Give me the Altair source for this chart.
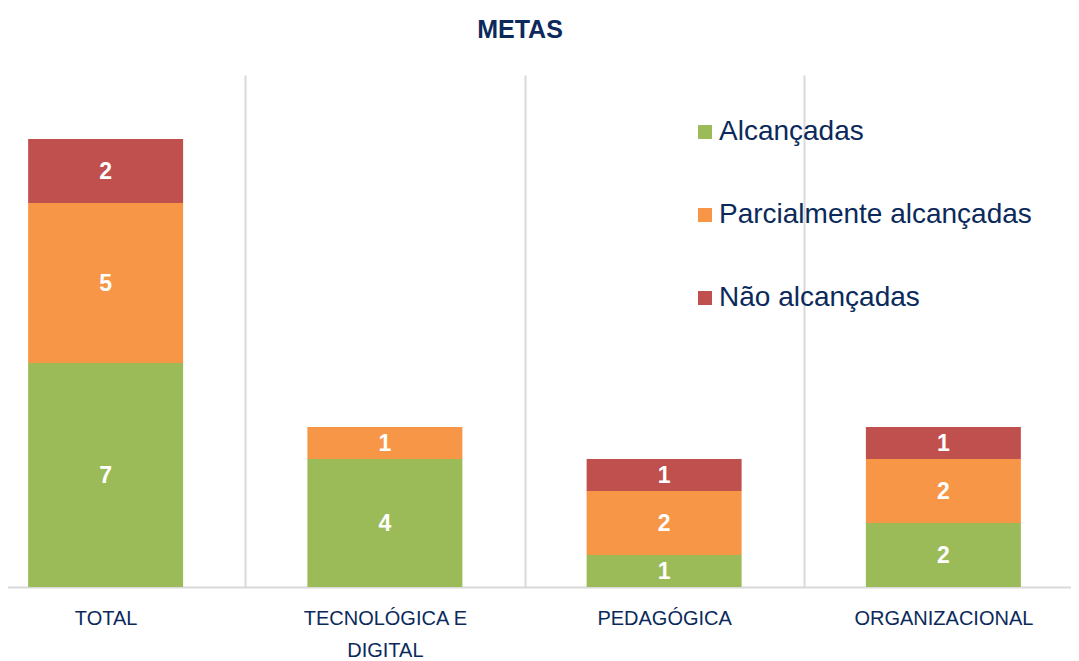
import altair as alt
import pandas as pd

categories = ["TOTAL", "TECNOLÓGICA E DIGITAL", "PEDAGÓGICA", "ORGANIZACIONAL"]
series = ["Alcançadas", "Parcialmente alcançadas", "Não alcançadas"]
alcancadas = [7, 4, 1, 2]
parcialmente = [5, 1, 2, 2]
nao_alcancadas = [2, 0, 1, 1]
colors = ["#9BBB59", "#F79646", "#C0504D"]
chart_title = "METAS"

rows = []
for i, c in enumerate(categories):
    for j, vals in enumerate([alcancadas, parcialmente, nao_alcancadas]):
        rows.append({"cat": c, "serie": series[j], "ord": j, "v": vals[i]})
df = pd.DataFrame(rows)

NAVY = "#0B2A5B"
FONT = "Liberation Sans"

x_scale = alt.Scale(range=[-42, 1075], paddingInner=0, paddingOuter=0)

x_enc = alt.X(
    "cat:N",
    sort=categories,
    title=None,
    scale=x_scale,
    axis=alt.Axis(
        labelAngle=0,
        labelFont=FONT,
        labelFontSize=20,
        labelColor=NAVY,
        labelPadding=21,
        labelLineHeight=32,
        labelBaseline="top",
        labelExpr="datum.value == 'TECNOLÓGICA E DIGITAL' ? ['TECNOLÓGICA E', 'DIGITAL'] : datum.label",
        ticks=False,
        domain=True,
        domainColor="#D9D9D9",
        domainWidth=2,
        grid=True,
        gridColor="#D9D9D9",
        gridWidth=2,
        tickBand="extent",
    ),
)

y_scale = alt.Scale(domain=[0, 16], nice=False, zero=True)

bars = alt.Chart(df).mark_bar(width=alt.RelativeBandSize(0.555)).encode(
    x=x_enc,
    y=alt.Y("v:Q", stack="zero", scale=y_scale, axis=None),
    color=alt.Color(
        "serie:N",
        scale=alt.Scale(domain=series, range=colors),
        legend=alt.Legend(
            title=None,
            orient="none",
            legendX=683,
            legendY=43,
            symbolType="square",
            symbolSize=196,
            symbolStrokeWidth=0,
            symbolOpacity=1,
            labelFont=FONT,
            labelFontSize=28,
            labelColor=NAVY,
            labelOffset=0,
            rowPadding=55,
            padding=0,
            labelLimit=400,
        ),
    ),
    order=alt.Order("ord:Q", sort="ascending"),
)

labels = (
    alt.Chart(df)
    .transform_filter("datum.v > 0")
    .transform_stack(
        stack="v", as_=["y0", "y1"], groupby=["cat"], sort=[alt.SortField("ord", order="ascending")]
    )
    .transform_calculate(mid="(datum.y0 + datum.y1) / 2")
    .mark_text(color="white", font=FONT, fontSize=23, fontWeight="bold", baseline="middle", dy=1)
    .encode(
        x=alt.X("cat:N", sort=categories, scale=x_scale),
        y=alt.Y("mid:Q", scale=y_scale),
        text=alt.Text("v:Q"),
    )
)

title_mark = (
    alt.Chart(pd.DataFrame({"t": [chart_title]}))
    .mark_text(font=FONT, fontSize=25, fontWeight="bold", color=NAVY, align="center", baseline="alphabetic")
    .encode(x=alt.value(512), y=alt.value(-37), text="t:N")
)

chart = (
    alt.layer(bars, labels, title_mark)
    .properties(
        width=1063,
        height=512,
        autosize=alt.AutoSizeParams(type="none"),
        padding={"left": 0, "top": 67, "right": 0, "bottom": 80},
    )
    .configure_view(stroke=None)
)

chart.save("out.html", embed_options={"renderer": "svg", "actions": False})
